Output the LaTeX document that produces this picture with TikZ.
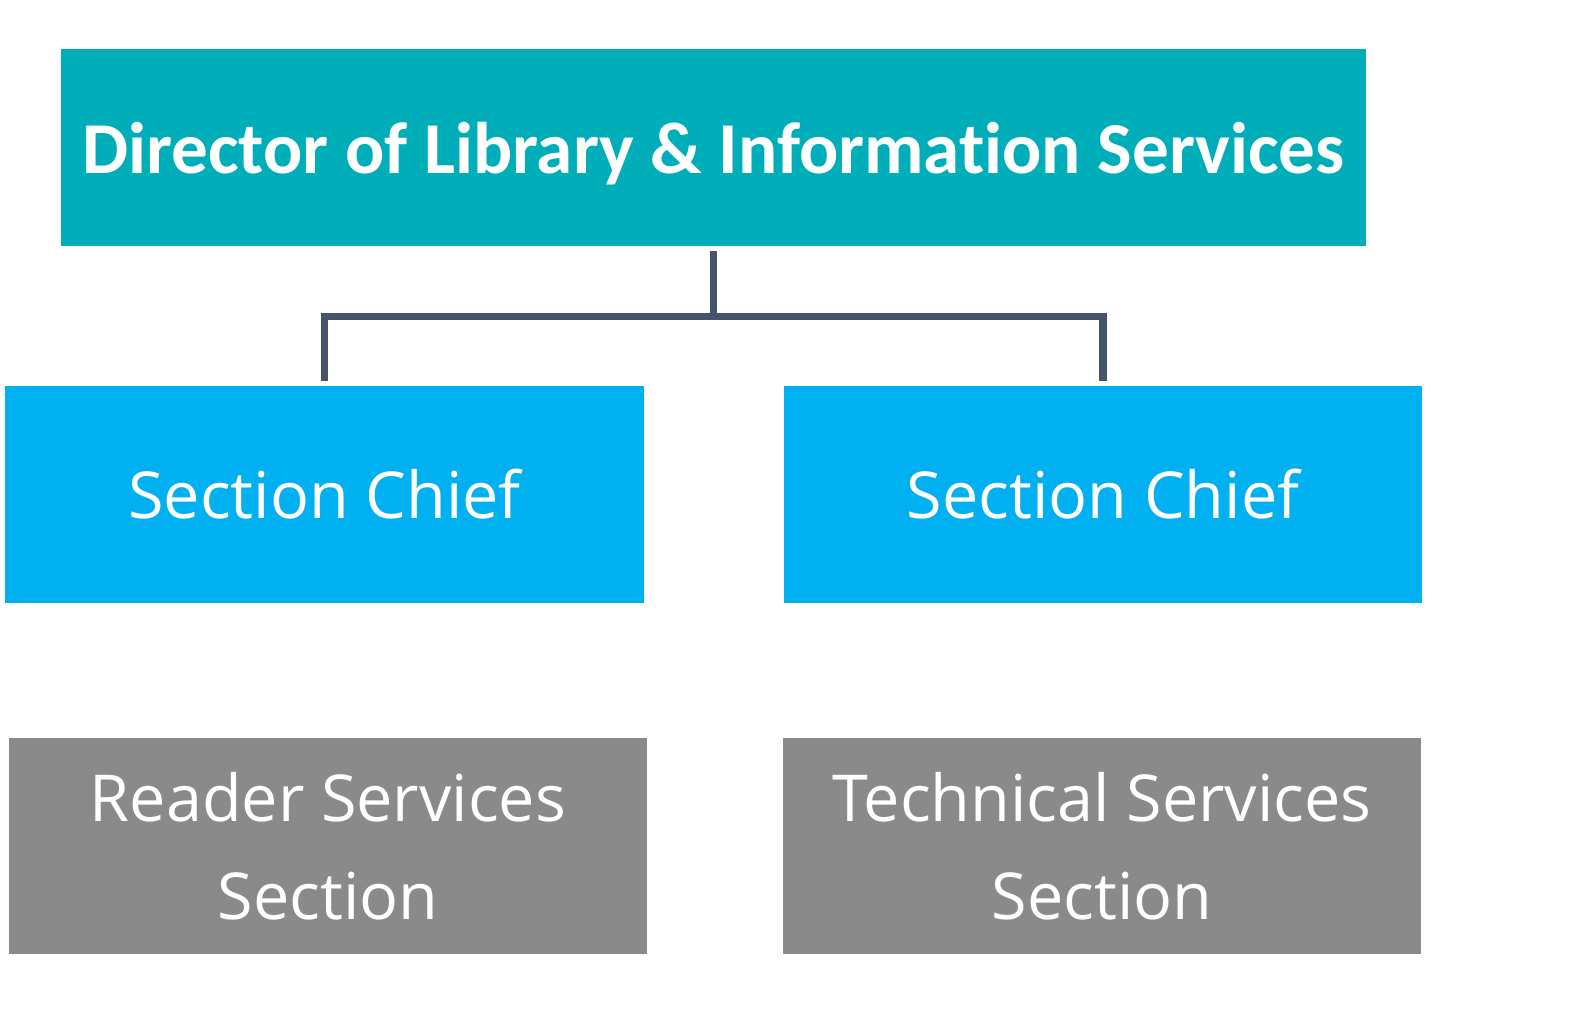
\documentclass[tikz,border=0pt]{standalone}
\usepackage{fontspec}
\setmainfont{Carlito}[Ligatures=NoCommon]
\newfontfamily\lightfont{Open Sans}
\definecolor{headteal}{RGB}{0,174,185}
\definecolor{chiefblue}{RGB}{0,176,240}
\definecolor{sectiongray}{RGB}{138,138,138}
\definecolor{linkslate}{RGB}{68,84,106}
\begin{document}
\begin{tikzpicture}[
        x=0.025cm, y=-0.025cm,
        component/.style={draw=none, text=white, inner sep=0pt, align=center},
        director/.style={component, fill=headteal, minimum width=32.63cm, minimum height=4.93cm, text depth=0pt, font=\fontsize{52}{60}\selectfont\bfseries},
        chief/.style={component, fill=chiefblue, minimum width=15.97cm, minimum height=5.43cm, font=\lightfont\fontsize{46}{60}\selectfont},
        section/.style={component, fill=sectiongray, minimum width=15.95cm, minimum height=5.4cm, font=\lightfont\fontsize{46}{70}\selectfont},
        link/.style={draw=linkslate, line width=5pt, line join=miter, shorten <=0.125cm}
    ]
        \useasboundingbox (0,0) rectangle (1585,1008);

        % Director.
        \node[director] (director) at (713.5,147.5) {Director of Library \& Information Services};

        % Two section chiefs.
        \node[chief] (chiefA) at (324.5,494.5) {Section Chief};
        \node[chief] (chiefB) at (1103,494.5) {Section Chief};

        % Sections.
        \node[section] (readers) at (328,846) {Reader Services\\Section};
        \node[section] (technical) at (1102,846) {Technical Services\\Section};

        % Connectors.
        \draw[link] (director.south) -- ++(0,70) coordinate (fork);
        \draw[link, shorten >=0.125cm] (chiefA.north) |- (fork) -| (chiefB.north);
    \end{tikzpicture}
\end{document}
